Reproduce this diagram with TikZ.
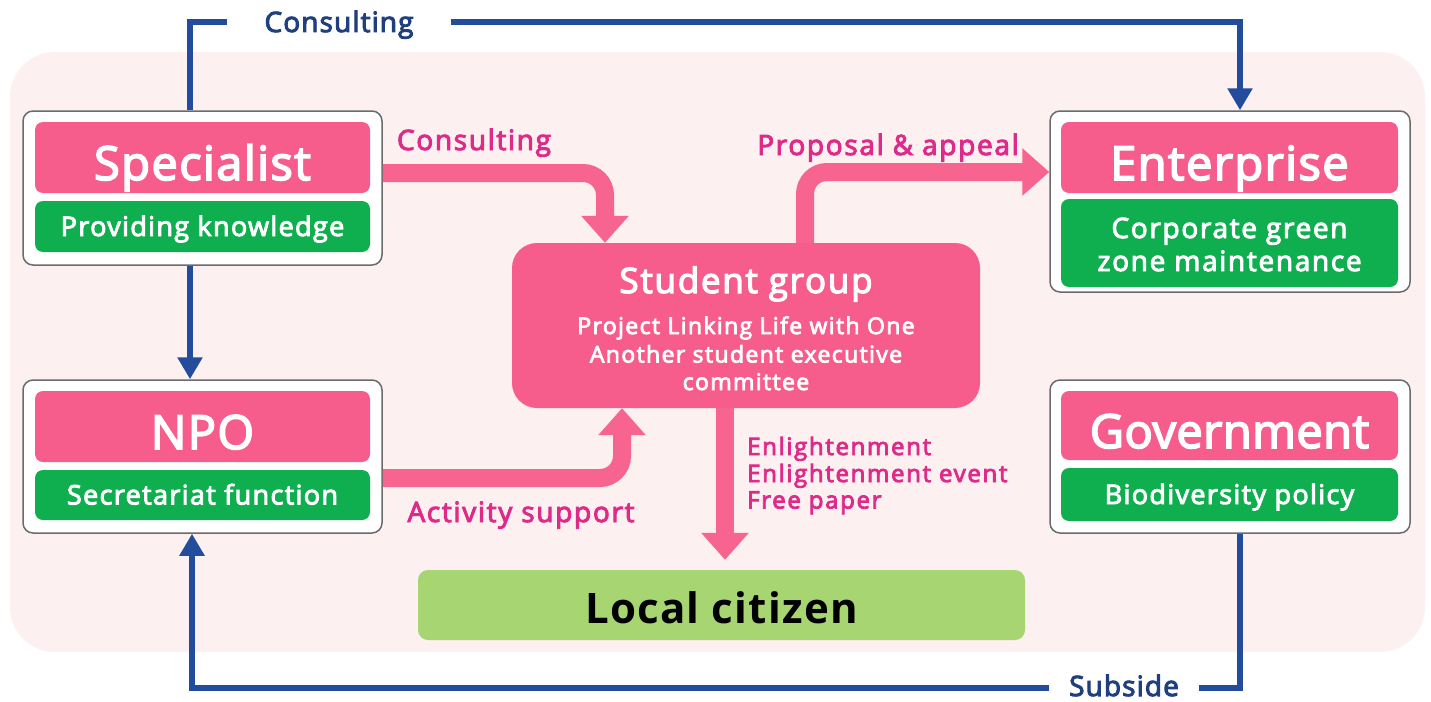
\documentclass[tikz,border=0pt]{standalone}
\usepackage{fontspec}
\setmainfont{Open Sans}
\newfontfamily\semi{Open Sans}[FakeBold=3.5]
\usetikzlibrary{arrows.meta,calc}
\definecolor{bgpink}{HTML}{FDF0F0}
\definecolor{boxpink}{HTML}{F65C8C}
\definecolor{arrpink}{HTML}{F6648F}
\definecolor{txtpink}{HTML}{DE2A88}
\definecolor{boxgreen}{HTML}{0FAE4F}
\definecolor{lgreen}{HTML}{A7D572}
\definecolor{lineblue}{HTML}{234C9C}
\definecolor{txtblue}{HTML}{1F3F7E}
\definecolor{framegray}{HTML}{6B6B6B}
\begin{document}
\begin{tikzpicture}[x=1pt,y=-1pt,
  outerbox/.style={draw=framegray, line width=1.5pt, fill=white, rounded corners=10pt, inner sep=0pt},
  titlebox/.style={fill=boxpink, rounded corners=8pt, inner sep=0pt},
  subbox/.style={fill=boxgreen, rounded corners=8pt, inner sep=0pt},
  titletxt/.style={anchor=base, text=white, inner sep=0pt, font=\semi\fontsize{47}{50}\selectfont\addfontfeatures{LetterSpace=3}},
  subtxt/.style={anchor=base, text=white, inner sep=0pt, font=\semi\fontsize{27}{33}\selectfont\addfontfeatures{LetterSpace=5}},
  pinkarrow/.style={draw=arrpink, line width=18pt, rounded corners=22pt, -{Triangle[width=46pt,length=27pt]}},
  blueline/.style={draw=lineblue, line width=6pt, -{Triangle[width=24pt,length=22pt]}},
  bluelbl/.style={anchor=base, fill=white, text=txtblue, inner ysep=0pt, font=\semi\fontsize{28}{30}\selectfont\addfontfeatures{LetterSpace=4}},
  pinklbl/.style={anchor=base, text=txtpink, inner sep=0pt, font=\semi\fontsize{28}{30}\selectfont\addfontfeatures{LetterSpace=6}}
]
\useasboundingbox (0,0) rectangle (1431,701);
\fill[white] (0,0) rectangle (1431,701);
\fill[bgpink, rounded corners=45pt] (10,52) rectangle (1425,652);

% Specialist
\node[outerbox, minimum width=359pt, minimum height=154pt] (spec) at (202.5,188) {};
\node[titlebox, minimum width=335pt, minimum height=71pt] (specT) at (202.5,157.5) {};
\node[subbox, minimum width=335pt, minimum height=51pt] (specS) at (202.5,226.5) {};
\node[titletxt] (specTt) at (202.5,180) {Specialist};
\node[subtxt] (specSt) at (202.5,236) {Providing knowledge};

% NPO
\node[outerbox, minimum width=359pt, minimum height=153pt] (npo) at (202.5,456.5) {};
\node[titlebox, minimum width=335pt, minimum height=71pt] (npoT) at (202.5,426.5) {};
\node[subbox, minimum width=335pt, minimum height=50pt] (npoS) at (202.5,495) {};
\node[titletxt] (npoTt) at (202.5,449) {NPO};
\node[subtxt] (npoSt) at (202.5,504.5) {Secretariat function};

% Enterprise
\node[outerbox, minimum width=360pt, minimum height=181pt] (ent) at (1230,201.5) {};
\node[titlebox, minimum width=337pt, minimum height=71pt] (entT) at (1229.5,157.5) {};
\node[subbox, minimum width=337pt, minimum height=88pt] (entS) at (1229.5,243) {};
\node[titletxt] (entTt) at (1229.5,180) {Enterprise};
\node[subtxt, font=\semi\fontsize{28}{33}\selectfont\addfontfeatures{LetterSpace=6}] (entS1) at (1229.5,238) {Corporate green};
\node[subtxt, font=\semi\fontsize{28}{33}\selectfont\addfontfeatures{LetterSpace=6}] (entS2) at (1229.5,271) {zone maintenance};

% Government
\node[outerbox, minimum width=360pt, minimum height=153pt] (gov) at (1230,456.5) {};
\node[titlebox, minimum width=337pt, minimum height=69pt] (govT) at (1229.5,425.5) {};
\node[subbox, minimum width=337pt, minimum height=53pt] (govS) at (1229.5,494.5) {};
\node[titletxt, font=\semi\fontsize{47}{50}\selectfont\addfontfeatures{LetterSpace=1}] (govTt) at (1229.5,448) {Government};
\node[subtxt] (govSt) at (1229.5,504) {Biodiversity policy};

% Student group
\node[fill=boxpink, rounded corners=25pt, minimum width=468pt, minimum height=165pt, inner sep=0pt] (stu) at (746,325.5) {};
\node[anchor=base, text=white, inner sep=0pt, font=\semi\fontsize{35}{38}\selectfont\addfontfeatures{LetterSpace=5}] (stuT) at (746,293) {Student group};
\node[anchor=base, text=white, inner sep=0pt, font=\semi\fontsize{23}{26}\selectfont\addfontfeatures{LetterSpace=6}] (stuS1) at (746,334) {Project Linking Life with One};
\node[anchor=base, text=white, inner sep=0pt, font=\semi\fontsize{23}{26}\selectfont\addfontfeatures{LetterSpace=6}] (stuS2) at (746,362.5) {Another student executive};
\node[anchor=base, text=white, inner sep=0pt, font=\semi\fontsize{23}{26}\selectfont\addfontfeatures{LetterSpace=6}] (stuS3) at (746,390) {committee};

% Local citizen
\node[fill=lgreen, rounded corners=10pt, minimum width=607pt, minimum height=70pt, inner sep=0pt] (loc) at (721.5,605) {};
\node[anchor=base, inner sep=0pt, text=black, font=\fontsize{42}{46}\selectfont\bfseries\addfontfeatures{LetterSpace=3}] (loct) at (721.5,623) {Local citizen};

% pink arrows
\draw[pinkarrow] (spec.east |- 0,173) -- (605,173) -- (stu.north -| 605,0);
\draw[pinkarrow] (stu.north -| 805,0) -- (805,172) -- (ent.west |- 0,172);
\draw[pinkarrow] (npo.east |- 0,478) -- (622,478) -- (stu.south -| 622,0);
\draw[pinkarrow] (stu.south -| 725,0) -- ($(loc.north -| 725,0)+(0,-10)$);

% pink labels
\node[pinklbl] (lcons) at (474,150) {Consulting};
\node[pinklbl] (lprop) at (888,155) {Proposal \& appeal};
\node[pinklbl] (lact) at (521,522) {Activity support};
\node[pinklbl, anchor=base west, font=\semi\fontsize{24}{27}\selectfont\addfontfeatures{LetterSpace=7}] (lenl1) at (747,455) {Enlightenment};
\node[pinklbl, anchor=base west, font=\semi\fontsize{24}{27}\selectfont\addfontfeatures{LetterSpace=7}] (lenl2) at (747,482) {Enlightenment event};
\node[pinklbl, anchor=base west, font=\semi\fontsize{24}{27}\selectfont\addfontfeatures{LetterSpace=7}] (lenl3) at (747,508.5) {Free paper};

% blue connectors
\draw[blueline] (spec.north -| 190,0) -- (190,22) -- (1240,22) -- (ent.north -| 1240,0);
\node[bluelbl, inner xsep=38pt] (bcons) at (339,32) {Consulting};
\draw[blueline] (spec.south -| 190,0) -- (npo.north -| 190,0);
\draw[blueline] (gov.south -| 1240,0) -- (1240,688) -- (192,688) -- (npo.south -| 192,0);
\node[bluelbl, inner xsep=20pt] (bsub) at (1124,696) {Subside};
\end{tikzpicture}
\end{document}
